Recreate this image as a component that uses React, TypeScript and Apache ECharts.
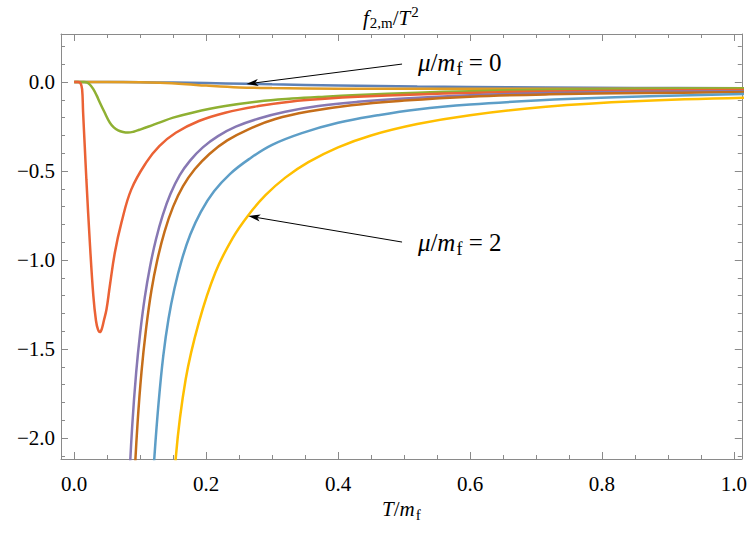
import React, { useEffect, useRef } from 'react';
import * as echarts from 'echarts';

const SERIF = 'Liberation Serif, serif';
const AXIS_COLOR = '#8a8a8a';

// Plot range
const X_MIN = -0.02;
const X_MAX = 1.012;
const Y_MIN = -2.118;
const Y_MAX = 0.27;

// Tick values and labels
const xTickValues = [0, 0.2, 0.4, 0.6, 0.8, 1.0];
const xTickLabels = ['0.0', '0.2', '0.4', '0.6', '0.8', '1.0'];
const yTickValues = [0, -0.5, -1.0, -1.5, -2.0];
const yTickLabels = ['0.0', '−0.5', '−1.0', '−1.5', '−2.0'];

// Default plot palette, one colour per curve
const curveColors = ['#5E81B5', '#E19C24', '#8FB032', '#EB6235', '#8778B3', '#C56E1A', '#5D9EC7', '#FFBF00'];

// f_{2,m}/T^2 against T/m_f, one curve per chemical potential
const curve1: [number, number][] = [
  [0, 0], [0.05, 0], [0.1, -0.001], [0.15, -0.003], [0.2, -0.006], [0.26, -0.01], [0.3, -0.013],
  [0.4, -0.019], [0.52, -0.025], [0.6, -0.028], [0.715, -0.031], [0.85, -0.033], [1.05, -0.035],
];
const curve2: [number, number][] = [
  [0, 0], [0.05, 0], [0.1, -0.001], [0.13, -0.004], [0.17, -0.012], [0.2, -0.02], [0.25, -0.03],
  [0.3, -0.034], [0.4, -0.037], [0.52, -0.038], [0.7, -0.038], [1.05, -0.037],
];
const curve3: [number, number][] = [
  [0, 0], [0.015, 0], [0.02, -0.003], [0.024, -0.015], [0.029, -0.04], [0.034, -0.075], [0.039, -0.116],
  [0.046, -0.17], [0.054, -0.228], [0.06, -0.255], [0.0666, -0.272], [0.074, -0.281], [0.0816, -0.284],
  [0.09, -0.279], [0.099, -0.268], [0.113, -0.25], [0.129, -0.228], [0.15, -0.2], [0.179, -0.172],
  [0.229, -0.135], [0.279, -0.109], [0.33, -0.093], [0.38, -0.082], [0.43, -0.073], [0.52, -0.06],
  [0.6, -0.051], [0.715, -0.043], [0.85, -0.038], [1.05, -0.034],
];
const curve4: [number, number][] = [
  [0, 0], [0.006, 0], [0.0095, -0.006], [0.012, -0.04], [0.0135, -0.17], [0.016, -0.36], [0.0185, -0.55],
  [0.024, -0.92], [0.029, -1.2], [0.033, -1.34], [0.036, -1.39], [0.039, -1.405], [0.042, -1.385],
  [0.045, -1.34], [0.049, -1.277], [0.054, -1.146], [0.0616, -0.959], [0.0716, -0.79], [0.0866, -0.603],
  [0.109, -0.453], [0.129, -0.36], [0.154, -0.285], [0.189, -0.219], [0.229, -0.172], [0.279, -0.135],
  [0.33, -0.109], [0.38, -0.094], [0.43, -0.083], [0.52, -0.07], [0.6, -0.061], [0.715, -0.053],
  [0.86, -0.0476], [1.05, -0.0447],
];
const curve5: [number, number][] = [
  [0.077, -2.94], [0.079, -2.68], [0.083, -2.28], [0.088, -1.93], [0.094, -1.63], [0.1, -1.41],
  [0.107, -1.21], [0.115, -1.036], [0.124, -0.883], [0.134, -0.75], [0.146, -0.628], [0.16, -0.523],
  [0.176, -0.44], [0.195, -0.367], [0.218, -0.304], [0.245, -0.251], [0.28, -0.205], [0.32, -0.167],
  [0.37, -0.135], [0.43, -0.111], [0.5, -0.092], [0.6, -0.0744], [0.72, -0.062], [0.86, -0.055],
  [1.05, -0.0505],
];
const curve6: [number, number][] = [
  [0.087, -2.61], [0.091, -2.25], [0.096, -1.92], [0.102, -1.63], [0.109, -1.386], [0.117, -1.173],
  [0.126, -1.0], [0.137, -0.84], [0.15, -0.7], [0.165, -0.585], [0.183, -0.489], [0.205, -0.404],
  [0.232, -0.328], [0.265, -0.264], [0.305, -0.208], [0.355, -0.166], [0.42, -0.13], [0.5, -0.104],
  [0.6, -0.082], [0.72, -0.069], [0.86, -0.062], [1.05, -0.055],
];
const curve7: [number, number][] = [
  [0.113, -2.71], [0.117, -2.38], [0.1217, -2.1], [0.128, -1.8], [0.135, -1.54], [0.143, -1.33],
  [0.152, -1.16], [0.163, -1.0], [0.176, -0.857], [0.192, -0.729], [0.212, -0.614], [0.236, -0.517],
  [0.265, -0.433], [0.3, -0.353], [0.345, -0.287], [0.4, -0.229], [0.46, -0.187], [0.52, -0.154],
  [0.6, -0.126], [0.7, -0.104], [0.82, -0.086], [0.95, -0.073], [1.05, -0.065],
];
const curve8: [number, number][] = [
  [0.145, -2.7], [0.154, -2.11], [0.169, -1.67], [0.189, -1.35], [0.214, -1.07], [0.24, -0.878],
  [0.264, -0.748], [0.29, -0.636], [0.32, -0.537], [0.355, -0.45], [0.4, -0.367], [0.45, -0.3],
  [0.52, -0.236], [0.6, -0.186], [0.715, -0.139], [0.85, -0.108], [1.05, -0.086],
];
const curves = [curve1, curve2, curve3, curve4, curve5, curve6, curve7, curve8];

// Arrow annotations: tail, tip, label anchor, and the μ/m_f value they name
const arrowTails: [number, number][] = [[0.497, 0.101], [0.497, -0.899]];
const arrowTips: [number, number][] = [[0.261, -0.011], [0.264, -0.753]];
const labelAnchors: [number, number][] = [[0.521, 0.112], [0.521, -0.904]];
const muValues = ['0', '2'];

const mathRich = (size: number) => ({
  i: { fontFamily: SERIF, fontStyle: 'italic', fontWeight: 'normal', fontSize: size, color: '#000' },
  n: { fontFamily: SERIF, fontWeight: 'normal', fontSize: size, color: '#000' },
  s: {
    fontFamily: SERIF, fontWeight: 'normal', fontSize: Math.round(size * 0.7), color: '#000',
    padding: [Math.round(size * 0.5), 0, 0, 1],
  },
  p: {
    fontFamily: SERIF, fontWeight: 'normal', fontSize: Math.round(size * 0.7), color: '#000',
    padding: [0, 0, Math.round(size * 0.55), 1],
  },
});

const pick = (values: number[], labels: string[], v: number) => {
  const k = values.findIndex((t) => Math.abs(t - v) < 1e-9);
  return k >= 0 ? labels[k] : '';
};

const baseX = {
  type: 'value',
  min: X_MIN,
  max: X_MAX,
  splitNumber: 5,
  axisLine: { show: true, onZero: false, lineStyle: { color: AXIS_COLOR, width: 1 } },
  axisTick: { show: true, inside: true, length: 7, lineStyle: { color: AXIS_COLOR } },
  minorTick: { show: true, splitNumber: 4, length: 4, lineStyle: { color: AXIS_COLOR } },
  splitLine: { show: false },
};
const baseY = {
  type: 'value',
  min: Y_MIN,
  max: Y_MAX,
  splitNumber: 5,
  axisLine: { show: true, onZero: false, lineStyle: { color: AXIS_COLOR, width: 1 } },
  axisTick: { show: true, inside: true, length: 7, lineStyle: { color: AXIS_COLOR } },
  minorTick: { show: true, splitNumber: 5, length: 4, lineStyle: { color: AXIS_COLOR } },
  splitLine: { show: false },
};

const annotationData = arrowTails.map((t, k) => [
  t[0], t[1], arrowTips[k][0], arrowTips[k][1], labelAnchors[k][0], labelAnchors[k][1],
]);

const option: any = {
  animation: false,
  textStyle: { fontFamily: SERIF },
  title: {
    text: '{i|f}{s|2,m}{n|/}{i|T}{p|2}',
    left: 358,
    top: -1,
    textStyle: { fontFamily: SERIF, fontWeight: 'normal', fontSize: 21, rich: mathRich(21) },
  },
  grid: { left: 61, right: 2, top: 34, bottom: 85 },
  xAxis: [
    {
      ...baseX,
      position: 'bottom',
      axisLabel: {
        formatter: (v: number) => pick(xTickValues, xTickLabels, v),
        fontFamily: SERIF,
        fontSize: 21,
        color: '#000',
        margin: 14,
      },
      name: '{i|T}{n|/}{i|m}{s|f}',
      nameLocation: 'middle',
      nameGap: 24,
      nameTextStyle: { fontFamily: SERIF, fontSize: 21, rich: mathRich(21) },
    },
    { ...baseX, position: 'top', axisLabel: { show: false } },
  ],
  yAxis: [
    {
      ...baseY,
      position: 'left',
      axisLabel: {
        formatter: (v: number) => pick(yTickValues, yTickLabels, v),
        fontFamily: SERIF,
        fontSize: 21,
        color: '#000',
        margin: 6,
      },
    },
    { ...baseY, position: 'right', axisLabel: { show: false } },
  ],
  series: [
    ...curves.map((data, k) => ({
      type: 'line',
      name: `curve${k + 1}`,
      data,
      xAxisIndex: 0,
      yAxisIndex: 0,
      showSymbol: false,
      smooth: 0.4,
      lineStyle: { color: curveColors[k], width: 2.5 },
      z: 2,
    })),
    {
      type: 'custom',
      name: 'annotations',
      data: annotationData,
      xAxisIndex: 0,
      yAxisIndex: 0,
      z: 5,
      encode: { x: [0, 2, 4], y: [1, 3, 5] },
      renderItem: (params: any, api: any) => {
        const k = params.dataIndex;
        const p0 = api.coord([api.value(0), api.value(1)]);
        const p1 = api.coord([api.value(2), api.value(3)]);
        const pl = api.coord([api.value(4), api.value(5)]);
        const dx = p1[0] - p0[0];
        const dy = p1[1] - p0[1];
        const len = Math.hypot(dx, dy);
        const ux = dx / len;
        const uy = dy / len;
        const nx = -uy;
        const ny = ux;
        const L = 12;
        const W = 3.6;
        const N = 3;
        const bx = p1[0] - ux * L;
        const by = p1[1] - uy * L;
        const mx = p1[0] - ux * (L - N);
        const my = p1[1] - uy * (L - N);
        return {
          type: 'group',
          children: [
            {
              type: 'line',
              shape: { x1: p0[0], y1: p0[1], x2: mx, y2: my },
              style: { stroke: '#000', lineWidth: 1 },
            },
            {
              type: 'polygon',
              shape: { points: [[p1[0], p1[1]], [bx + nx * W, by + ny * W], [mx, my], [bx - nx * W, by - ny * W]] },
              style: { fill: '#000' },
            },
            {
              type: 'text',
              x: pl[0],
              y: pl[1],
              style: {
                text: `{i|μ}{n|/}{i|m}{s|f}{n| = ${muValues[k]}}`,
                rich: mathRich(25),
                fontFamily: SERIF,
                fontSize: 25,
                fill: '#000',
                align: 'left',
                verticalAlign: 'middle',
              },
            },
          ],
        };
      },
    },
  ],
};

// Keep every chart text in the serif face, whatever inline font the renderer writes
const fontRule = `#root svg text, #root svg tspan { font-family: 'Liberation Serif', serif !important; }`;

export default function App() {
  const ref = useRef<HTMLDivElement>(null);
  useEffect(() => {
    document.body.style.margin = '0';
    const chart = echarts.init(ref.current!, null, { renderer: 'svg' });
    chart.setOption(option);
    return () => chart.dispose();
  }, []);
  return (
    <>
      <style>{fontRule}</style>
      <div ref={ref} style={{ width: 750, height: 544, background: '#fff' }} />
    </>
  );
}
